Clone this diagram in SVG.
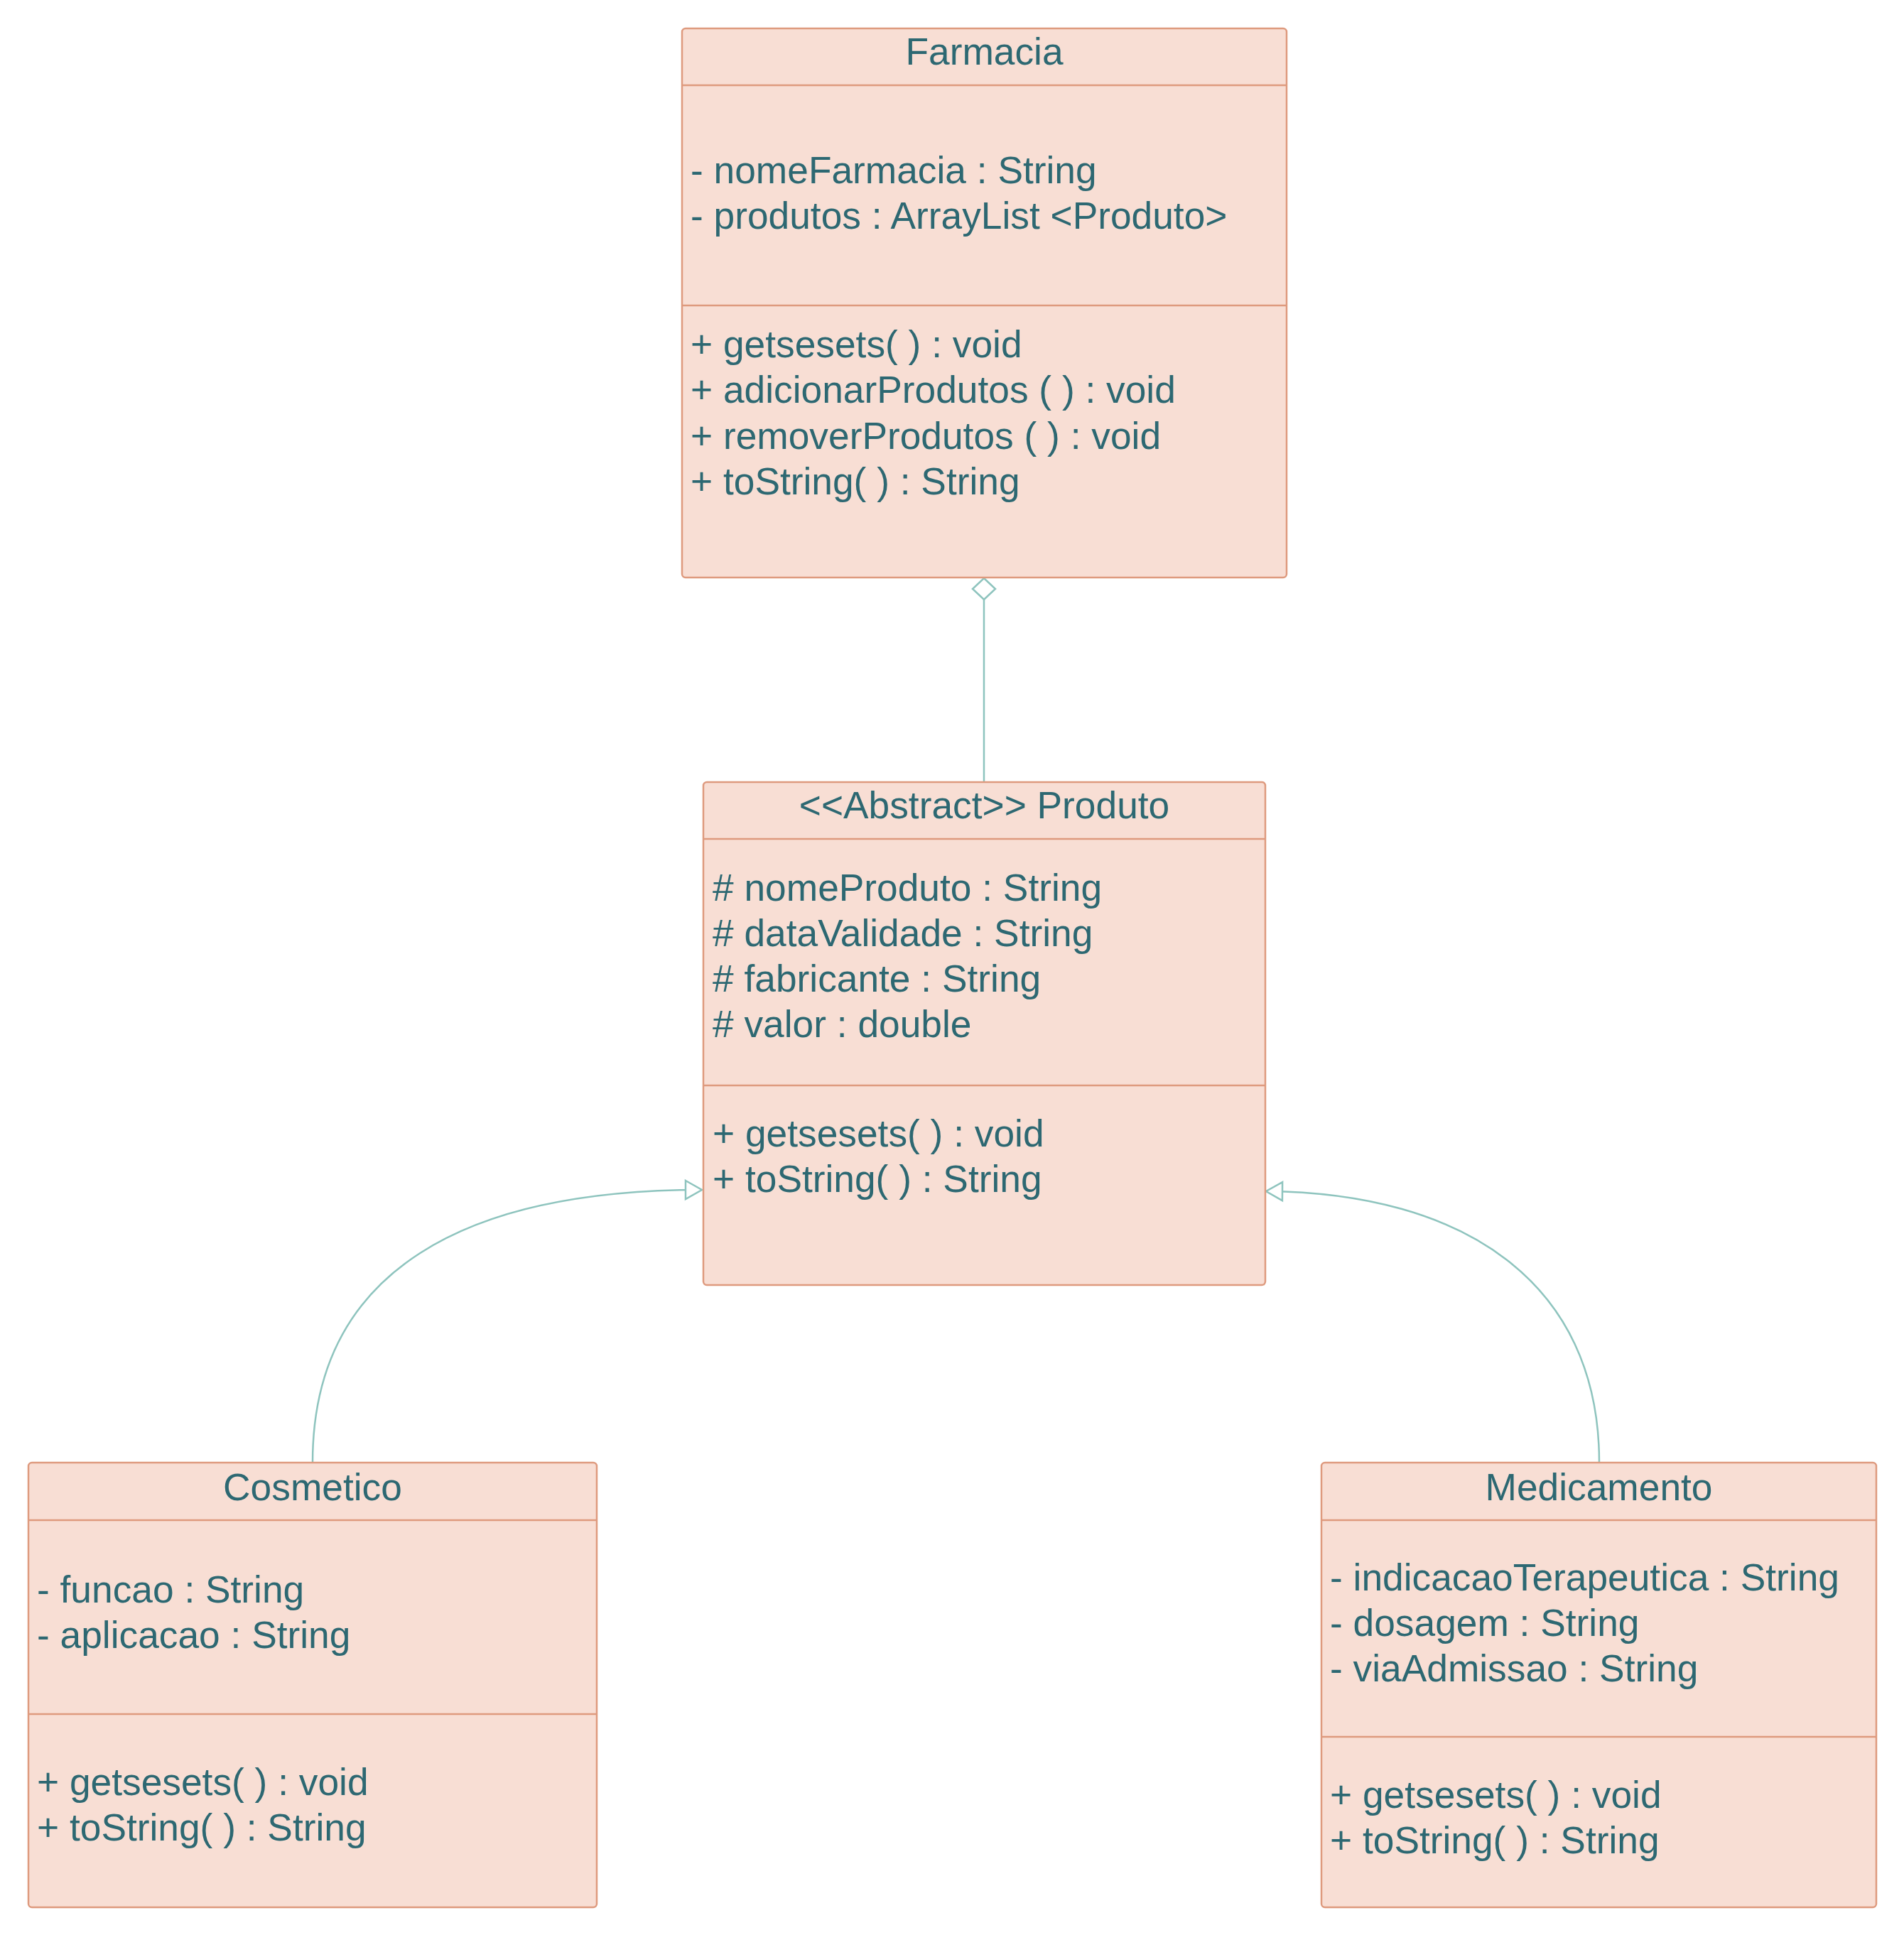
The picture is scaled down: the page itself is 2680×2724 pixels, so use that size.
<svg xmlns="http://www.w3.org/2000/svg" width="2680" height="2724" viewBox="0 0 2680 2724">
<style>
.box{fill:#F8DED4;stroke:#DE9A7E;stroke-width:2.5}
.div{stroke:#DE9A7E;stroke-width:2.5;fill:none}
text{font-family:"Liberation Sans",Arial,sans-serif;font-size:53.3px;fill:#2D6872}
.title{text-anchor:middle}
.conn{fill:none;stroke:#8EC4BE;stroke-width:2.5}
.head{fill:#FFFFFF;stroke:#8EC4BE;stroke-width:2.5}
</style>
<defs>
<marker id="tri" markerUnits="userSpaceOnUse" markerWidth="30" markerHeight="30" refX="23" refY="13" orient="auto" overflow="visible">
<path class="head" d="M0,0 L23,13 L0,26 Z"/>
</marker>
<marker id="dia" markerUnits="userSpaceOnUse" markerWidth="34" markerHeight="34" refX="0" refY="16" orient="auto" overflow="visible">
<path class="head" d="M0,16 L15,0 L30,16 L15,32 Z"/>
</marker>
</defs>
<rect width="2680" height="2724" fill="#FFFFFF"/>
<g id="connectors">
<path class="conn" d="M1385,814 L1385,1101" marker-start="url(#dia)"/>
<path class="conn" d="M440,2059 C440,1785 660,1675 988,1675" marker-end="url(#tri)"/>
<path class="conn" d="M2251,2059 C2251,1805 2060,1679 1782,1677" marker-end="url(#tri)"/>
</g>
<g id="Farmacia">
<rect class="box" x="960" y="40" width="851" height="773" rx="5"/>
<line class="div" x1="960" y1="120" x2="1811" y2="120"/>
<line class="div" x1="960" y1="430" x2="1811" y2="430"/>
<text class="title" x="1385.5" y="91">Farmacia</text>
<text x="972" y="258">- nomeFarmacia : String</text>
<text x="972" y="322">- produtos : ArrayList &lt;Produto&gt;</text>
<text x="972" y="503">+ getsesets( ) : void</text>
<text x="972" y="567">+ adicionarProdutos ( ) : void</text>
<text x="972" y="632">+ removerProdutos ( ) : void</text>
<text x="972" y="696">+ toString( ) : String</text>
</g>
<g id="Produto">
<rect class="box" x="990" y="1101" width="791" height="708" rx="5"/>
<line class="div" x1="990" y1="1181" x2="1781" y2="1181"/>
<line class="div" x1="990" y1="1528" x2="1781" y2="1528"/>
<text class="title" x="1385.5" y="1152">&lt;&lt;Abstract&gt;&gt; Produto</text>
<text x="1003" y="1268"># nomeProduto : String</text>
<text x="1003" y="1332"># dataValidade : String</text>
<text x="1003" y="1396"># fabricante : String</text>
<text x="1003" y="1460"># valor : double</text>
<text x="1003" y="1614">+ getsesets( ) : void</text>
<text x="1003" y="1678">+ toString( ) : String</text>
</g>
<g id="Cosmetico">
<rect class="box" x="40" y="2059" width="800" height="626" rx="5"/>
<line class="div" x1="40" y1="2140" x2="840" y2="2140"/>
<line class="div" x1="40" y1="2413" x2="840" y2="2413"/>
<text class="title" x="440" y="2112">Cosmetico</text>
<text x="52" y="2256">- funcao : String</text>
<text x="52" y="2320">- aplicacao : String</text>
<text x="52" y="2527">+ getsesets( ) : void</text>
<text x="52" y="2591">+ toString( ) : String</text>
</g>
<g id="Medicamento">
<rect class="box" x="1860" y="2059" width="781" height="626" rx="5"/>
<line class="div" x1="1860" y1="2140" x2="2641" y2="2140"/>
<line class="div" x1="1860" y1="2445" x2="2641" y2="2445"/>
<text class="title" x="2250.5" y="2112">Medicamento</text>
<text x="1872" y="2239">- indicacaoTerapeutica : String</text>
<text x="1872" y="2303">- dosagem : String</text>
<text x="1872" y="2367">- viaAdmissao : String</text>
<text x="1872" y="2545">+ getsesets( ) : void</text>
<text x="1872" y="2609">+ toString( ) : String</text>
</g>
</svg>
